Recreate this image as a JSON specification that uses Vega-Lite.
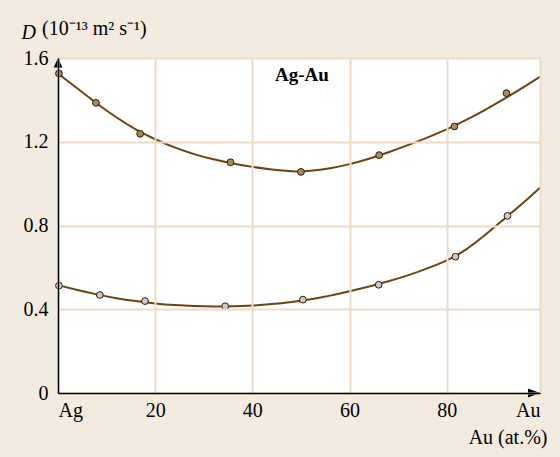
{
  "$schema": "https://vega.github.io/schema/vega-lite/v6.json",
  "autosize": {"type": "none"},
  "width": 482,
  "height": 335,
  "padding": {"left": 58, "top": 58, "right": 20, "bottom": 64},
  "background": "#f3ebdf",
  "config": {
    "view": {"fill": "white", "stroke": null},
    "font": "Liberation Serif",
    "axis": {
      "labelFont": "Liberation Serif",
      "titleFont": "Liberation Serif",
      "labelFontSize": 20,
      "titleFontSize": 20,
      "labelColor": "black",
      "titleColor": "black",
      "titleFontWeight": "normal",
      "domainColor": "black",
      "domainWidth": 1.5,
      "ticks": false,
      "gridColor": "#ecdcc7",
      "gridWidth": 2,
      "gridOpacity": 1
    }
  },
  "title": {
    "text": "(10⁻¹³ m² s⁻¹)",
    "anchor": "start",
    "frame": "group",
    "orient": "top",
    "font": "Liberation Serif",
    "fontSize": 20,
    "fontWeight": "normal",
    "color": "black",
    "baseline": "alphabetic",
    "offset": 0,
    "dx": -16,
    "dy": 33
  },
  "datasets": {
    "curves": [
      {"series": "upper", "x": 0, "D": 1.526},
      {"series": "upper", "x": 4, "D": 1.454},
      {"series": "upper", "x": 8, "D": 1.383},
      {"series": "upper", "x": 12, "D": 1.317},
      {"series": "upper", "x": 16, "D": 1.259},
      {"series": "upper", "x": 20, "D": 1.212},
      {"series": "upper", "x": 24, "D": 1.173},
      {"series": "upper", "x": 28, "D": 1.141},
      {"series": "upper", "x": 32, "D": 1.116},
      {"series": "upper", "x": 36, "D": 1.096},
      {"series": "upper", "x": 40, "D": 1.080},
      {"series": "upper", "x": 44, "D": 1.067},
      {"series": "upper", "x": 48, "D": 1.059},
      {"series": "upper", "x": 52, "D": 1.061},
      {"series": "upper", "x": 56, "D": 1.073},
      {"series": "upper", "x": 60, "D": 1.093},
      {"series": "upper", "x": 64, "D": 1.119},
      {"series": "upper", "x": 68, "D": 1.150},
      {"series": "upper", "x": 72, "D": 1.184},
      {"series": "upper", "x": 76, "D": 1.220},
      {"series": "upper", "x": 80, "D": 1.259},
      {"series": "upper", "x": 84, "D": 1.304},
      {"series": "upper", "x": 88, "D": 1.354},
      {"series": "upper", "x": 92, "D": 1.407},
      {"series": "upper", "x": 96, "D": 1.463},
      {"series": "upper", "x": 99.2, "D": 1.510},
      {"series": "lower", "x": 0, "D": 0.515},
      {"series": "lower", "x": 4, "D": 0.492},
      {"series": "lower", "x": 8, "D": 0.471},
      {"series": "lower", "x": 12, "D": 0.453},
      {"series": "lower", "x": 16, "D": 0.439},
      {"series": "lower", "x": 20, "D": 0.428},
      {"series": "lower", "x": 24, "D": 0.420},
      {"series": "lower", "x": 28, "D": 0.415},
      {"series": "lower", "x": 32, "D": 0.413},
      {"series": "lower", "x": 36, "D": 0.414},
      {"series": "lower", "x": 40, "D": 0.418},
      {"series": "lower", "x": 44, "D": 0.425},
      {"series": "lower", "x": 48, "D": 0.435},
      {"series": "lower", "x": 52, "D": 0.448},
      {"series": "lower", "x": 56, "D": 0.465},
      {"series": "lower", "x": 60, "D": 0.486},
      {"series": "lower", "x": 64, "D": 0.509},
      {"series": "lower", "x": 68, "D": 0.534},
      {"series": "lower", "x": 72, "D": 0.562},
      {"series": "lower", "x": 76, "D": 0.595},
      {"series": "lower", "x": 80, "D": 0.633},
      {"series": "lower", "x": 84, "D": 0.686},
      {"series": "lower", "x": 88, "D": 0.757},
      {"series": "lower", "x": 92, "D": 0.835},
      {"series": "lower", "x": 96, "D": 0.914},
      {"series": "lower", "x": 99.2, "D": 0.981}
    ],
    "points": [
      {"series": "upper", "x": 0.2, "D": 1.526},
      {"series": "upper", "x": 7.8, "D": 1.386},
      {"series": "upper", "x": 16.9, "D": 1.238},
      {"series": "upper", "x": 35.5, "D": 1.102},
      {"series": "upper", "x": 50.0, "D": 1.056},
      {"series": "upper", "x": 66.1, "D": 1.136},
      {"series": "upper", "x": 81.6, "D": 1.273},
      {"series": "upper", "x": 92.3, "D": 1.432},
      {"series": "lower", "x": 0.2, "D": 0.513},
      {"series": "lower", "x": 8.6, "D": 0.468},
      {"series": "lower", "x": 17.9, "D": 0.439},
      {"series": "lower", "x": 34.4, "D": 0.414},
      {"series": "lower", "x": 50.4, "D": 0.446},
      {"series": "lower", "x": 66.0, "D": 0.517},
      {"series": "lower", "x": 81.8, "D": 0.651},
      {"series": "lower", "x": 92.5, "D": 0.846}
    ],
    "arrows": [
      {"dir": "up", "x": 0, "D": 1.6},
      {"dir": "right", "x": 99.2, "D": 0}
    ],
    "labels": [
      {"text": "Ag-Au", "x": 50.2, "D": 1.49}
    ]
  },
  "layer": [
    {
      "data": {"name": "curves"},
      "mark": {"type": "line", "interpolate": "natural", "color": "#6e4211", "strokeWidth": 2},
      "encoding": {
        "x": {
          "field": "x", "type": "quantitative",
          "scale": {"domain": [0, 99.2], "nice": false, "zero": false},
          "axis": {
            "values": [0, 20, 40, 60, 80, 99.2],
            "labelExpr": "datum.value == 0 ? 'Ag' : (datum.value > 99 ? 'Au' : datum.label)",
            "labelAlign": {"condition": [{"test": "datum.value == 0", "value": "left"}, {"test": "datum.value > 99", "value": "right"}], "value": "center"},
            "labelPadding": 7,
            "labelBaseline": "top",
            "labelFlush": false,
            "labelOverlap": false,
            "zindex": 1,
            "title": "Au (at.%)",
            "titleAnchor": "start",
            "titleAlign": "right",
            "titleBaseline": "alphabetic",
            "titleX": 489,
            "titleY": 50
          }
        },
        "y": {
          "field": "D", "type": "quantitative",
          "scale": {"domain": [0, 1.6], "nice": false},
          "axis": {
            "values": [0, 0.4, 0.8, 1.2, 1.6],
            "labelExpr": "datum.value == 0 ? '0' : format(datum.value, '.1f')",
            "labelPadding": 10,
            "labelBaseline": "middle",
            "labelFlush": false,
            "labelOverlap": false,
            "zindex": 1,
            "title": "D",
            "titleFontStyle": "italic",
            "titleAngle": 0,
            "titleAlign": "left",
            "titleAnchor": "start",
            "titleBaseline": "alphabetic",
            "titleX": -37,
            "titleY": -20
          }
        },
        "detail": {"field": "series"}
      }
    },
    {
      "data": {"name": "points"},
      "mark": {"type": "point", "shape": "circle", "filled": true, "size": 46, "stroke": "#2b1d0e", "strokeWidth": 1, "opacity": 1},
      "encoding": {
        "x": {"field": "x", "type": "quantitative"},
        "y": {"field": "D", "type": "quantitative"},
        "fill": {
          "field": "series", "type": "nominal",
          "scale": {"domain": ["upper", "lower"], "range": ["#a8895e", "#cacaca"]},
          "legend": null
        }
      }
    },
    {
      "data": {"name": "arrows"},
      "mark": {"type": "point", "filled": true, "size": 64, "color": "black", "opacity": 1, "clip": false},
      "encoding": {
        "x": {"field": "x", "type": "quantitative"},
        "y": {"field": "D", "type": "quantitative"},
        "shape": {
          "field": "dir", "type": "nominal",
          "scale": {"domain": ["up", "right"], "range": ["M0,0L-1.1,2.4L1.1,2.4Z", "M0,0L-3,-1.1L-3,1.1Z"]},
          "legend": null
        }
      }
    },
    {
      "data": {"name": "labels"},
      "mark": {"type": "text", "font": "Liberation Serif", "fontSize": 19, "fontWeight": "bold", "align": "center", "baseline": "alphabetic", "color": "black"},
      "encoding": {
        "x": {"field": "x", "type": "quantitative"},
        "y": {"field": "D", "type": "quantitative"},
        "text": {"field": "text"}
      }
    }
  ]
}
